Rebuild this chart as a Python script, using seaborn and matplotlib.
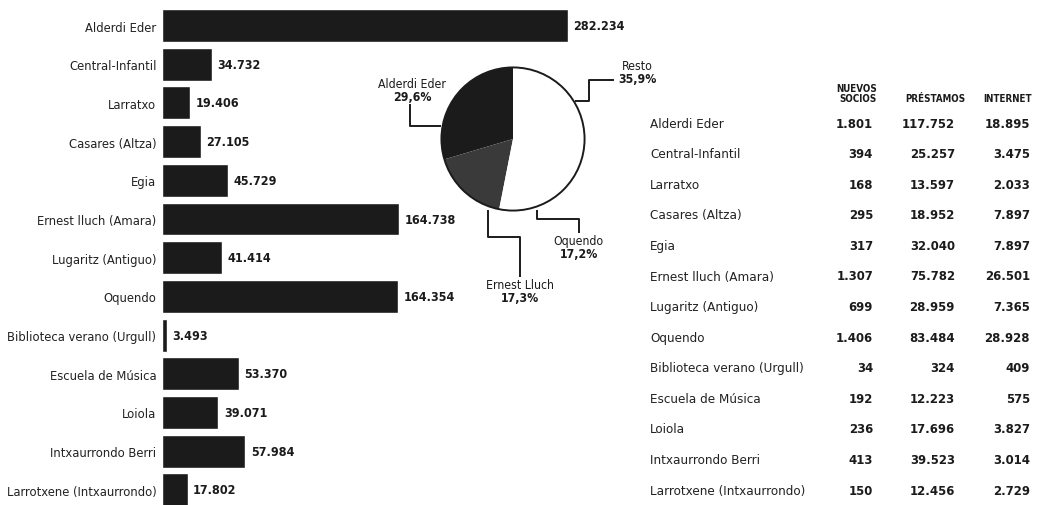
import matplotlib
matplotlib.use("Agg")
import matplotlib.pyplot as plt
from matplotlib.patches import Circle
import seaborn as sns
import pandas as pd
import numpy as np

# ---------------- data ----------------
bibliotecas = ["Alderdi Eder", "Central-Infantil", "Larratxo", "Casares (Altza)", "Egia",
               "Ernest lluch (Amara)", "Lugaritz (Antiguo)", "Oquendo",
               "Biblioteca verano (Urgull)", "Escuela de Música", "Loiola",
               "Intxaurrondo Berri", "Larrotxene (Intxaurrondo)"]
visitas = [282234, 34732, 19406, 27105, 45729, 164738, 41414, 164354,
           3493, 53370, 39071, 57984, 17802]

pie_labels = ["Alderdi Eder", "Ernest Lluch", "Oquendo", "Resto"]
pie_pct = [29.6, 17.3, 17.2, 35.9]

tabla_nombres = ["Alderdi Eder", "Central-Infantil", "Larratxo", "Casares (Altza)", "Egia",
                 "Ernest lluch (Amara)", "Lugaritz (Antiguo)", "Oquendo",
                 "Biblioteca verano (Urgull)", "Escuela de Música", "Loiola",
                 "Intxaurrondo Berri", "Larrotxene (Intxaurrondo)"]
nuevos_socios = [1801, 394, 168, 295, 317, 1307, 699, 1406, 34, 192, 236, 413, 150]
prestamos = [117752, 25257, 13597, 18952, 32040, 75782, 28959, 83484, 324, 12223, 17696, 39523, 12456]
internet = [18895, 3475, 2033, 7897, 7897, 26501, 7365, 28928, 409, 575, 3827, 3014, 2729]
tabla_cabeceras = ["NUEVOS\nSOCIOS", "PRÉSTAMOS", "INTERNET"]


def fmt(v):
    return f"{v:,}".replace(",", ".")


# ---------------- style ----------------
sns.set_theme(style="white")
FAM = ["DejaVu Sans"]
plt.rcParams["font.family"] = FAM
plt.rcParams["font.stretch"] = "condensed"
INK = "#1b1b1b"
ST = "condensed"

W, H = 1040, 506
fig = plt.figure(figsize=(W / 100, H / 100), dpi=100)
fig.patch.set_facecolor("white")

# ---------------- bar chart ----------------
x0, x1 = 162, 640
ax = fig.add_axes([x0 / W, 0, (x1 - x0) / W, 1])
df = pd.DataFrame({"biblioteca": bibliotecas, "visitas": visitas})
sns.barplot(data=df, x="visitas", y="biblioteca", orient="h", color=INK,
            width=0.85, saturation=1, ax=ax)
max_v = max(visitas)
ax.set_xlim(0, (x1 - x0) / 406 * max_v)
row0, step = 26.5, 38.7
ax.set_ylim((H - row0) / step, -row0 / step)
for c in ax.containers:
    ax.bar_label(c, labels=[fmt(v) for v in visitas], padding=4,
                 fontsize=9, fontweight="bold", color=INK, fontstretch=ST)
ax.set_xlabel("")
ax.set_ylabel("")
ax.set_xticks([])
ax.tick_params(axis="y", length=0, pad=4, labelsize=9.3, labelcolor="#222222")
for lab in ax.get_yticklabels():
    lab.set_fontstretch(ST)
sns.despine(ax=ax, left=True, bottom=True)
ax.patch.set_alpha(0)

# ---------------- pie ----------------
cx, cy, r = 513, 140, 73
pax = fig.add_axes([(cx - r) / W, 1 - (cy + r) / H, 2 * r / W, 2 * r / H])
pax.pie(pie_pct, colors=[INK, "#3a3a3a", "white", "white"], startangle=90,
        counterclock=True, wedgeprops=dict(linewidth=0))
pax.add_patch(Circle((0, 0), 1, fill=False, ec=INK, lw=1.4))
pax.set_xlim(-1.02, 1.02)
pax.set_ylim(-1.02, 1.02)
pax.set_aspect("equal")
pax.axis("off")


def P(x, y):
    return ((x - cx) / r, (cy - y) / r)


connectors = {
    "Alderdi Eder": [(408, 104), (408, 127), (440, 127)],
    "Resto": [(616, 80), (591, 80), (591, 101), (576, 101)],
    "Oquendo": [(537, 212), (537, 222), (580, 222), (580, 236)],
    "Ernest Lluch": [(487, 212), (487, 240), (520, 240), (520, 281)],
}
label_pos = {
    "Alderdi Eder": (410, 90, "center"),
    "Resto": (640, 72, "center"),
    "Oquendo": (580, 250, "center"),
    "Ernest Lluch": (520, 295, "center"),
}
for name, pct in zip(pie_labels, pie_pct):
    pts = [P(*p) for p in connectors[name]]
    xs, ys = zip(*pts)
    pax.plot(xs, ys, color=INK, lw=1.4, clip_on=False, solid_capstyle="butt")
    lx, ly, ha = label_pos[name]
    tx, ty = P(lx, ly)
    pax.text(tx, ty, name, ha=ha, va="bottom", fontsize=8.8, color=INK,
             clip_on=False, fontstretch=ST)
    pax.text(tx, ty, f"{pct:.1f}%".replace(".", ","), ha=ha, va="top",
             fontsize=8.8, fontweight="bold", color=INK, clip_on=False, fontstretch=ST)

# ---------------- table ----------------
tax = fig.add_axes([0, 0, 1, 1])
tax.set_xlim(0, W)
tax.set_ylim(H, 0)
tax.axis("off")
tax.patch.set_alpha(0)

col_right = [873, 955, 1030]
trow0, tstep = 124, 30.6
hdr_x = [877, 935, 1032]
hdr_ha = ["right", "center", "right"]
for hx, ha, hd in zip(hdr_x, hdr_ha, tabla_cabeceras):
    tax.text(hx, 104, hd, ha=ha, va="bottom", fontsize=7, fontweight="bold",
             color=INK, linespacing=1.05, fontstretch=ST)
for i, nm in enumerate(tabla_nombres):
    y = trow0 + i * tstep
    tax.text(650, y, nm, ha="left", va="center", fontsize=9.6, color="#222222",
             fontstretch=ST)
    for xr, col in zip(col_right, [nuevos_socios, prestamos, internet]):
        tax.text(xr, y, fmt(col[i]), ha="right", va="center", fontsize=9.4,
                 fontweight="bold", color=INK, fontstretch=ST)

fig.savefig("out.png", dpi=100, facecolor="white")
